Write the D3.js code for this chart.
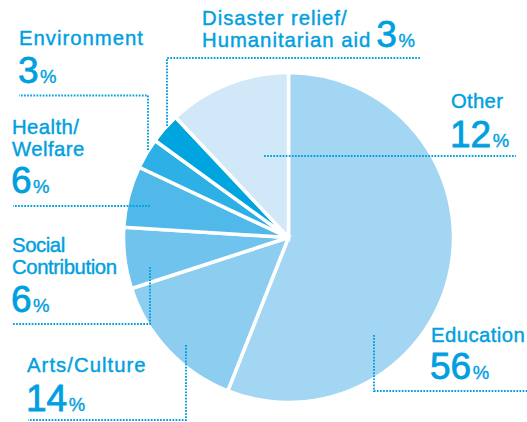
<!DOCTYPE html>
<html>
<head>
<meta charset="utf-8">
<script src="https://cdn.jsdelivr.net/npm/d3@7"></script>
<style>
  html, body { margin: 0; padding: 0; background: #fff; }
  svg { display: block; }
  .lbl { font-family: "Liberation Sans", Arial, Helvetica, sans-serif; fill: #00a0e0; }
</style>
</head>
<body>
<svg id="chart" width="527" height="422"></svg>
<script>
// Share of activities by field (%), clockwise from 12 o'clock
const categories = ["Education", "Arts/Culture", "Social Contribution", "Health/Welfare",
                    "Environment", "Disaster relief/Humanitarian aid", "Other"];
const values = [56, 14, 6, 6, 3, 3, 12];
const labelLines = [["Education"], ["Arts/Culture"], ["Social", "Contribution"], ["Health/", "Welfare"],
                    ["Environment"], ["Disaster relief/", "Humanitarian aid"], ["Other"]];
const sliceColors = ["#a3d6f2", "#8ccdf0", "#6fc3ed", "#50b9ea", "#2cb0e6", "#00a4df", "#d0e8f7"];

const W = 527, H = 422;
const cx = 288.5, cy = 237.5, R = 165;
const ink = "#00a0e0";

const svg = d3.select("#chart");

const pie = d3.pie().sort(null).value(d => d.value).startAngle(0).endAngle(2 * Math.PI);
const arc = d3.arc().innerRadius(0).outerRadius(R);
const data = categories.map((c, i) => ({ name: c, value: values[i], lines: labelLines[i], color: sliceColors[i] }));

const g = svg.append("g").attr("transform", `translate(${cx},${cy})`);
g.selectAll("path.slice")
  .data(pie(data))
  .join("path")
  .attr("class", "slice")
  .attr("d", arc)
  .attr("fill", d => d.data.color)
  .attr("stroke", "#fff")
  .attr("stroke-width", 3.5)
  .attr("stroke-linejoin", "miter");

// Label placement: text anchor, tracking, dotted leader path
const layout = {
  "Education":   { x: 431, y: 342, numY: 379, track: 0.45, leader: [[374, 335], [374, 391], [527, 391]] },
  "Arts/Culture": { x: 27, y: 372, numY: 411, track: 1.05, leader: [[186, 345], [186, 420], [28, 420]] },
  "Social Contribution": { x: 12, y: 252, numY: 312, track: -0.4, leader: [[150, 267], [150, 324], [12, 324]] },
  "Health/Welfare": { x: 12, y: 134, numY: 193, track: 0.45, leader: [[150, 206], [13, 206]] },
  "Environment": { x: 19, y: 45, numY: 83, track: 1.0, leader: [[148, 150], [148, 95.5], [19, 95.5]] },
  "Disaster relief/Humanitarian aid": { x: 202, y: 25, inline: true, track: 1.0, leader: [[167, 126], [167, 58], [420, 58]] },
  "Other": { x: 451, y: 108, numY: 147, track: 0.3, leader: [[264, 156], [516, 156]] }
};
const lineGap = 22;

const line = d3.line();
const labels = svg.append("g");

data.forEach(d => {
  const L = layout[d.name];
  labels.append("path")
    .attr("d", line(L.leader))
    .attr("fill", "none")
    .attr("stroke", ink)
    .attr("stroke-width", 1.9)
    .attr("stroke-dasharray", "1.7 1.4");

  const t = labels.append("text").attr("class", "lbl");
  d.lines.forEach((ln, k) => {
    t.append("tspan")
      .attr("x", L.x)
      .attr("y", L.y + k * lineGap)
      .attr("font-size", 20.3)
      .attr("letter-spacing", L.track)
      .attr("stroke", ink).attr("stroke-width", 0.4)
      .text(ln);
  });

  const num = L.inline
    ? t.append("tspan").attr("dx", 5)
    : t.append("tspan").attr("x", L.x - 1).attr("y", L.numY);
  num.attr("font-size", 37).attr("stroke", ink).attr("stroke-width", 0.8).attr("letter-spacing", 0).text(d.value);
  t.append("tspan").attr("dx", 1.5).attr("font-size", 18.5).attr("letter-spacing", 0)
    .attr("stroke", ink).attr("stroke-width", 0.4).text("%");
});
</script>
</body>
</html>
